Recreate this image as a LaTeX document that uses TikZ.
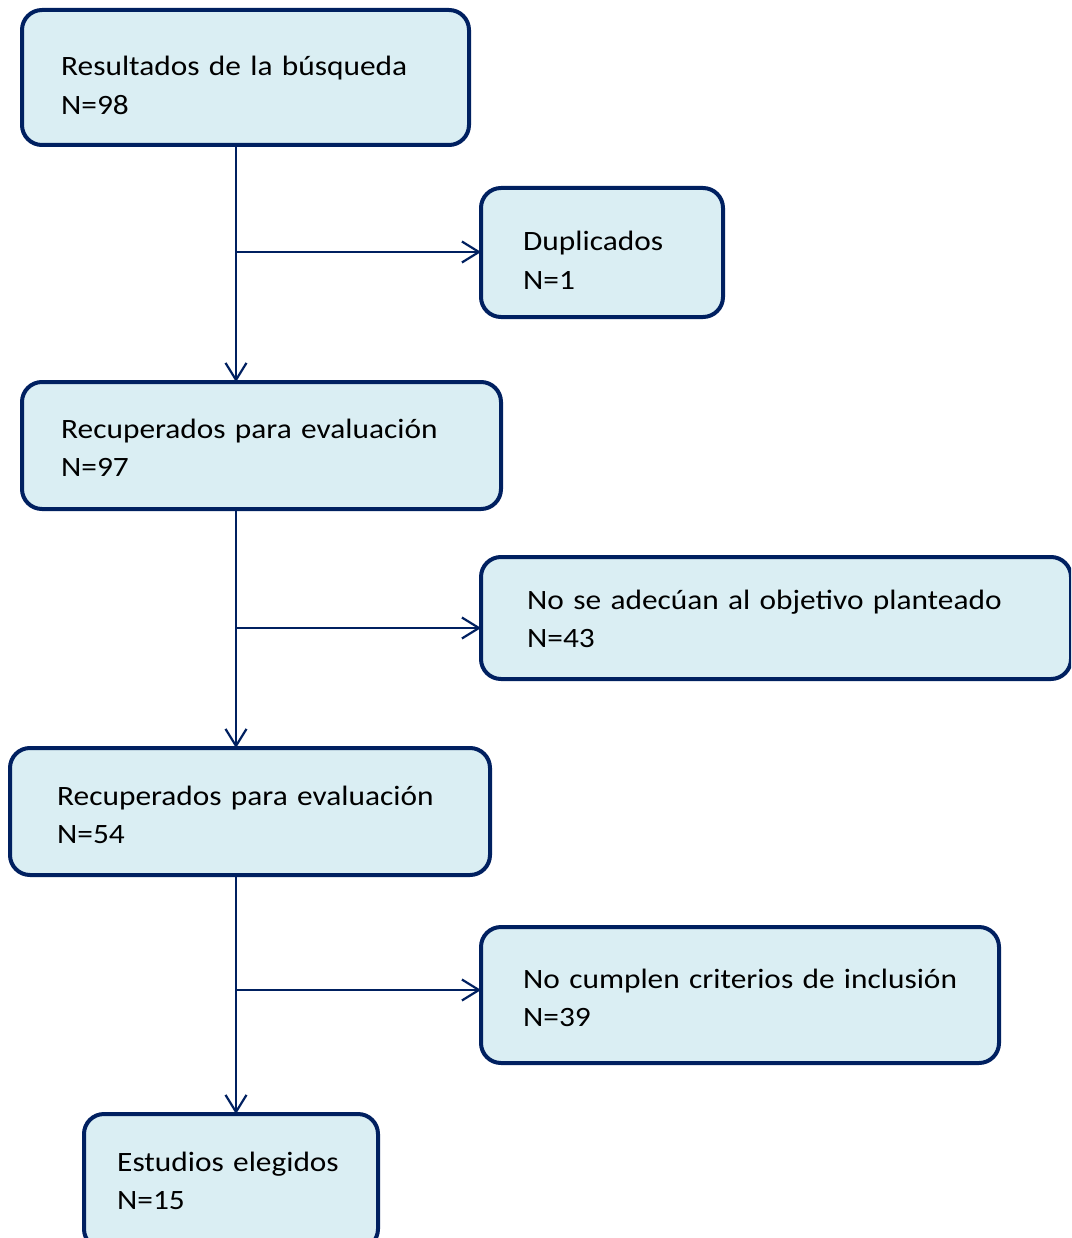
\documentclass[tikz,border=0pt]{standalone}
\usepackage{fontspec}
\setmainfont[FakeStretch=1.12]{Carlito}
\usetikzlibrary{arrows.meta}
\definecolor{boxfill}{HTML}{DAEEF3}
\definecolor{navy}{HTML}{002060}
\tikzset{
  flowbox/.style={draw=navy, line width=4pt, fill=boxfill, rounded corners=20pt, inner sep=0pt, outer sep=0pt, anchor=north west},
  boxtext/.style={anchor=base west, inner sep=0pt, text width=600pt, align=left, font=\fontsize{28}{38.5}\selectfont},
  conn/.style={draw=navy, line width=2.2pt, -{Straight Barb[length=17pt, width=21pt, line width=2.2pt]}},
}
\begin{document}
\begin{tikzpicture}[x=1pt,y=-1pt]
\useasboundingbox (0,0) rectangle (1071,1238);
\clip (0,0) rectangle (1071,1238);
% boxes
\node[flowbox, minimum width=447pt, minimum height=135pt] (b1) at (22,10) {};
\node[flowbox, minimum width=242pt, minimum height=129pt] (b2) at (481,188) {};
\node[flowbox, minimum width=479pt, minimum height=127pt] (b3) at (22,382) {};
\node[flowbox, minimum width=590pt, minimum height=122pt] (b4) at (481,557) {};
\node[flowbox, minimum width=480pt, minimum height=127pt] (b5) at (10,748) {};
\node[flowbox, minimum width=518pt, minimum height=136pt] (b6) at (481,927) {};
\node[flowbox, minimum width=294pt, minimum height=135pt] (b7) at (84,1114) {};
% texts
\node[boxtext] (t1) at (61,76) {Resultados de la búsqueda\\N=98};
\node[boxtext] (t2) at (523,251) {Duplicados\\N=1};
\node[boxtext] (t3) at (61,438) {Recuperados para evaluación\\N=97};
\node[boxtext] (t4) at (527,609) {No se adecúan al objetivo planteado\\N=43};
\node[boxtext] (t5) at (57,805) {Recuperados para evaluación\\N=54};
\node[boxtext] (t6) at (523,988) {No cumplen criterios de inclusión\\N=39};
\node[boxtext] (t7) at (117,1171) {Estudios elegidos\\N=15};
% trunk coordinates
\coordinate (tr) at (236,0);
\coordinate (j1) at (236,252);
\coordinate (j2) at (236,628);
\coordinate (j3) at (236,990);
% connectors
\draw[conn] (b1.south -| tr) -- (b3.north -| tr);
\draw[conn] (b3.south -| tr) -- (b5.north -| tr);
\draw[conn] (b5.south -| tr) -- (b7.north -| tr);
\draw[conn] (j1) -- (j1 -| b2.west);
\draw[conn] (j2) -- (j2 -| b4.west);
\draw[conn] (j3) -- (j3 -| b6.west);
\end{tikzpicture}
\end{document}
